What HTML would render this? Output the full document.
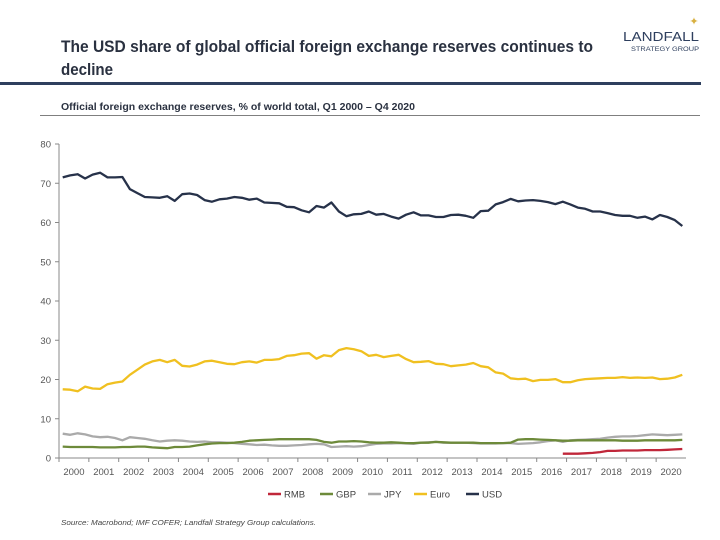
<!DOCTYPE html>
<html><head><meta charset="utf-8"><style>
body{margin:0;background:#fff;font-family:"Liberation Sans",sans-serif}
#wrap{position:relative;width:720px;height:540px;overflow:hidden}
</style></head><body>
<div id="wrap">
<svg id="chart" width="720" height="540">
<text x="61" y="52" font-size="17" font-weight="bold" fill="#2a3140" textLength="532" lengthAdjust="spacingAndGlyphs">The USD share of global official foreign exchange reserves continues to</text>
<text x="61" y="75" font-size="17" font-weight="bold" fill="#2a3140" textLength="52" lengthAdjust="spacingAndGlyphs">decline</text>
<g>
<text x="699" y="41" font-size="13" text-anchor="end" fill="#2e3f5e" textLength="76" lengthAdjust="spacingAndGlyphs">LANDFALL</text>
<text x="699" y="51" font-size="6.5" text-anchor="end" fill="#2e3f5e" textLength="68" lengthAdjust="spacingAndGlyphs">STRATEGY GROUP</text>
<text x="694" y="25" font-size="11" text-anchor="middle" fill="#d8b040">✦</text>
</g>
<rect x="0" y="82" width="701" height="3" fill="#2e3f5e"/>
<text x="61" y="110" font-size="10" font-weight="bold" fill="#2a3140" textLength="354" lengthAdjust="spacingAndGlyphs">Official foreign exchange reserves, % of world total, Q1 2000 – Q4 2020</text>
<line x1="40" y1="115.5" x2="700" y2="115.5" stroke="#555" stroke-width="0.8"/>
<g id="axes"></g><g id="series"></g><g id="legend"></g>
<text x="61" y="525" font-size="7.5" font-style="italic" fill="#444" textLength="255" lengthAdjust="spacingAndGlyphs">Source: Macrobond;  IMF COFER; Landfall Strategy Group calculations.</text>
</svg>
</div>
<script>
const years=[2000,2001,2002,2003,2004,2005,2006,2007,2008,2009,2010,2011,2012,2013,2014,2015,2016,2017,2018,2019,2020];
const yTicks=[0,10,20,30,40,50,60,70,80];
const usd=[71.5,72,72.3,71.2,72.2,72.7,71.5,71.5,71.6,68.5,67.5,66.5,66.4,66.3,66.7,65.5,67.2,67.4,67,65.7,65.3,65.9,66.1,66.5,66.3,65.8,66.1,65.1,65,64.9,64,63.9,63.1,62.6,64.2,63.8,65.1,62.8,61.6,62.1,62.2,62.8,62,62.2,61.5,61,62,62.6,61.8,61.8,61.4,61.4,61.9,62,61.7,61.2,62.9,63,64.6,65.2,66,65.4,65.6,65.7,65.5,65.2,64.7,65.3,64.6,63.8,63.5,62.8,62.8,62.4,61.9,61.7,61.7,61.2,61.5,60.8,61.9,61.4,60.6,59.1];
const euro=[17.5,17.4,17,18.2,17.7,17.6,18.8,19.2,19.5,21.2,22.5,23.8,24.6,25,24.4,25,23.5,23.3,23.8,24.6,24.8,24.4,24,23.9,24.4,24.6,24.3,25,25,25.2,26,26.2,26.6,26.7,25.3,26.2,25.9,27.5,28,27.7,27.2,26,26.3,25.7,26,26.3,25.2,24.4,24.5,24.7,24,23.9,23.4,23.6,23.8,24.2,23.4,23.1,21.8,21.5,20.3,20.1,20.2,19.6,19.9,19.9,20.1,19.3,19.3,19.8,20.1,20.2,20.3,20.4,20.4,20.6,20.4,20.5,20.4,20.5,20.1,20.2,20.5,21.2];
const jpy=[6.2,5.9,6.3,6,5.5,5.3,5.4,5.1,4.5,5.3,5.1,4.9,4.5,4.2,4.4,4.5,4.4,4.2,4.1,4.2,4,4,3.9,3.8,3.6,3.5,3.3,3.4,3.2,3.1,3.1,3.2,3.3,3.5,3.6,3.5,2.8,2.9,3,2.9,3,3.3,3.6,3.7,3.7,3.8,3.7,3.6,3.9,4,4.1,3.9,3.9,3.9,3.9,3.8,3.7,3.7,3.7,3.8,3.8,3.6,3.7,3.8,4,4.3,4.5,4.1,4.5,4.6,4.7,4.8,4.9,5.2,5.4,5.5,5.5,5.6,5.8,6,5.9,5.8,5.9,6];
const gbp=[2.9,2.8,2.8,2.8,2.8,2.7,2.7,2.7,2.8,2.8,2.9,2.9,2.7,2.6,2.5,2.8,2.8,2.9,3.2,3.5,3.7,3.8,3.8,3.9,4.1,4.4,4.5,4.6,4.7,4.8,4.8,4.8,4.8,4.8,4.6,4.1,3.9,4.2,4.2,4.3,4.2,4,3.9,3.9,4,3.9,3.8,3.8,3.9,3.9,4.1,4,3.9,3.9,3.9,3.9,3.8,3.8,3.8,3.8,3.9,4.7,4.8,4.8,4.7,4.6,4.5,4.4,4.4,4.5,4.5,4.5,4.5,4.5,4.5,4.4,4.4,4.4,4.5,4.5,4.5,4.5,4.5,4.6];
const rmb=[1.1,1.1,1.1,1.2,1.3,1.5,1.8,1.8,1.9,1.9,1.9,2,2,2,2.1,2.2,2.3];
const rmbStart=67;
const seriesNames=["RMB","GBP","JPY","Euro","USD"];
const seriesColors=["#c0273a","#6d8a3a","#aaaaaa","#f0c020","#27324a"];
const NS="http://www.w3.org/2000/svg";
const X0=59,X1=686,Y0=458,Y1=144;
const xq=i=>X0+(i+0.5)*(X1-X0)/84;
const y=v=>Y0-v*(Y0-Y1)/80;
function mk(tag,attrs,parent){const e=document.createElementNS(NS,tag);for(const k in attrs)e.setAttribute(k,attrs[k]);parent.appendChild(e);return e;}
const ax=document.getElementById('axes');
let l=mk('line',{x1:X0,y1:Y1,x2:X0,y2:Y0,stroke:'#888'},ax);


l=mk('line',{x1:X0,y1:Y0,x2:X1,y2:Y0,stroke:'#888'},ax);


yTicks.forEach(t=>{
 const tk=mk('line',{x1:X0-4,x2:X0,y1:y(t),y2:y(t),stroke:'#888'},ax);
 
 
 const tx=mk('text',{x:X0-8,y:y(t)+3.5,'font-size':9.5,'text-anchor':'end',fill:'#555'},ax);
 tx.textContent=t;
 
 
});
years.forEach((yr,k)=>{
 const xa=X0+k*(X1-X0)/21;
 const tk=mk('line',{x1:xa,x2:xa,y1:Y0,y2:Y0+4,stroke:'#888'},ax);
 
 
 const tx=mk('text',{x:xa+(X1-X0)/42,y:Y0+17,'font-size':9.5,'text-anchor':'middle',fill:'#555'},ax);
 tx.textContent=yr;
 
 
});
const sg=document.getElementById('series');
const data=[rmb,gbp,jpy,euro,usd];
[2,1,0,3,4].forEach(s=>{
 const off=s===0?rmbStart:0;
 const pts=data[s].map((v,i)=>xq(i+off).toFixed(1)+','+y(v).toFixed(1)).join(' ');
 const p=mk('polyline',{points:pts,fill:'none',stroke:seriesColors[s],'stroke-width':2.3,'stroke-linejoin':'round'},sg);
 
 
});
const lg=document.getElementById('legend');
const lx=[268,320,368,414,466];
seriesNames.forEach((n,s)=>{
 const g=mk('g',{},lg);
 
 
 mk('line',{x1:lx[s],x2:lx[s]+13,y1:494,y2:494,stroke:seriesColors[s],'stroke-width':2.5},g);
 const t=mk('text',{x:lx[s]+16,y:497.5,'font-size':9.5,fill:'#444'},g);
 t.textContent=n;
});
</script>
</body></html>
